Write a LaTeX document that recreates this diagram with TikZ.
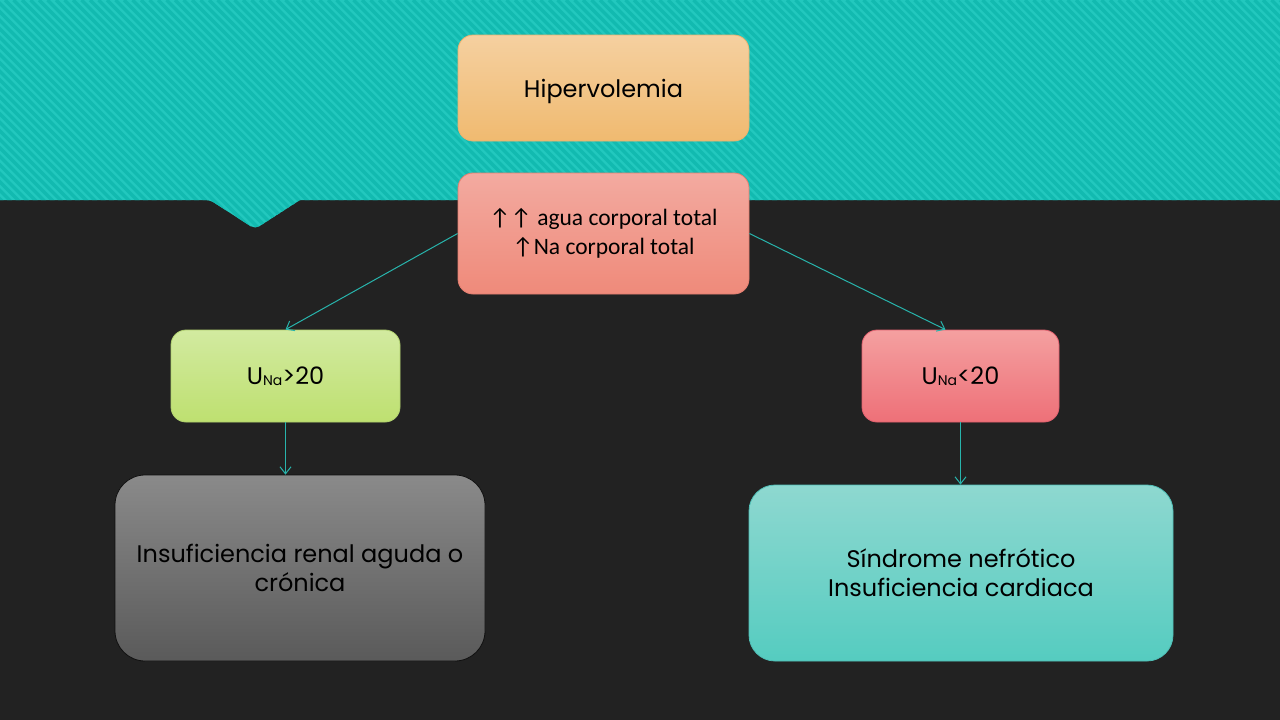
\documentclass[tikz,border=0pt]{standalone}
\usepackage{fontspec}
\setmainfont{Poppins}
\newfontfamily\calfont{Carlito}
\usetikzlibrary{arrows.meta}
\definecolor{bgdark}{RGB}{34,34,34}
\definecolor{banner}{RGB}{34,200,190}
\definecolor{bannerln}{RGB}{18,186,176}
\definecolor{linkcol}{RGB}{40,180,172}
% box colours
\definecolor{hiperln}{RGB}{232,178,112}
\definecolor{hipertop}{RGB}{245,208,160}
\definecolor{hiperbot}{RGB}{240,186,112}
\definecolor{agualn}{RGB}{226,126,112}
\definecolor{aguatop}{RGB}{243,170,160}
\definecolor{aguabot}{RGB}{239,138,122}
\definecolor{mayorln}{RGB}{176,208,110}
\definecolor{mayortop}{RGB}{210,234,160}
\definecolor{mayorbot}{RGB}{190,224,112}
\definecolor{menorln}{RGB}{224,96,110}
\definecolor{menortop}{RGB}{244,160,160}
\definecolor{menorbot}{RGB}{238,112,120}
\definecolor{renalln}{RGB}{16,16,16}
\definecolor{renaltop}{RGB}{138,138,138}
\definecolor{renalbot}{RGB}{90,90,90}
\definecolor{nefroln}{RGB}{80,192,184}
\definecolor{nefrotop}{RGB}{142,216,208}
\definecolor{nefrobot}{RGB}{85,204,192}
\newcommand{\una}[1]{U{\fontsize{14}{14}\selectfont\raisebox{-1pt}{Na}}#1}
\tikzset{
  box/.style={draw=#1ln, top color=#1top, bottom color=#1bot, line width=0.8pt, rounded corners=15pt, align=center, inner sep=0pt},
  link/.style={draw=linkcol, line width=1pt, -{Straight Barb[length=7pt,width=11pt]}}
}

\begin{document}
\begin{tikzpicture}[x=1pt, y=-1pt, font=\fontsize{24}{29}\selectfont]
        \useasboundingbox (0,0) rectangle (1280,720);
        \fill[bgdark] (0,0) rectangle (1280,720);
        % banner
        \begin{scope}
        \clip (0,0) -- (1280,0) -- (1280,200) -- (300,200) [rounded corners=5pt] -- (255,229) -- (210,200) [sharp corners] -- (0,200) -- cycle;
        \fill[banner] (0,0) rectangle (1280,240);
        \foreach \s in {-250,-241.5,...,1290}
            \draw[bannerln, line width=3.5pt] (\s,0) -- ++(250,250);
        \end{scope}
        % boxes
        \node[box=hiper, minimum width=291pt, minimum height=106pt] (hiper) at (603.5,88) {\raisebox{-3pt}[\height][\depth]{Hipervolemia}};
        \node[box=agua, minimum width=291pt, minimum height=121pt, font=\calfont\fontsize{23.5}{29}\selectfont] (agua) at (603.5,233.5) {↑↑ agua corporal total\\↑Na corporal total};
        \node[box=mayor, minimum width=229pt, minimum height=92pt] (mayor) at (285.5,376) {\una{>20}};
        \node[box=menor, minimum width=197pt, minimum height=92pt] (menor) at (960.5,376) {\una{<20}};
        \node[box=renal, rounded corners=30pt, minimum width=370pt, minimum height=186pt] (renal) at (300,568) {Insuficiencia renal aguda o\\crónica};
        \node[box=nefro, rounded corners=26pt, minimum width=424pt, minimum height=176pt] (nefro) at (961,573) {Síndrome nefrótico\\Insuficiencia cardiaca};
        % links
        \draw[link] (agua.west) -- (mayor.north);
        \draw[link] (agua.east) -- ([xshift=-15pt]menor.north);
        \draw[link] (mayor.south) -- (mayor.south |- renal.north);
        \draw[link] (menor.south) -- (menor.south |- nefro.north);
    \end{tikzpicture}
\end{document}
